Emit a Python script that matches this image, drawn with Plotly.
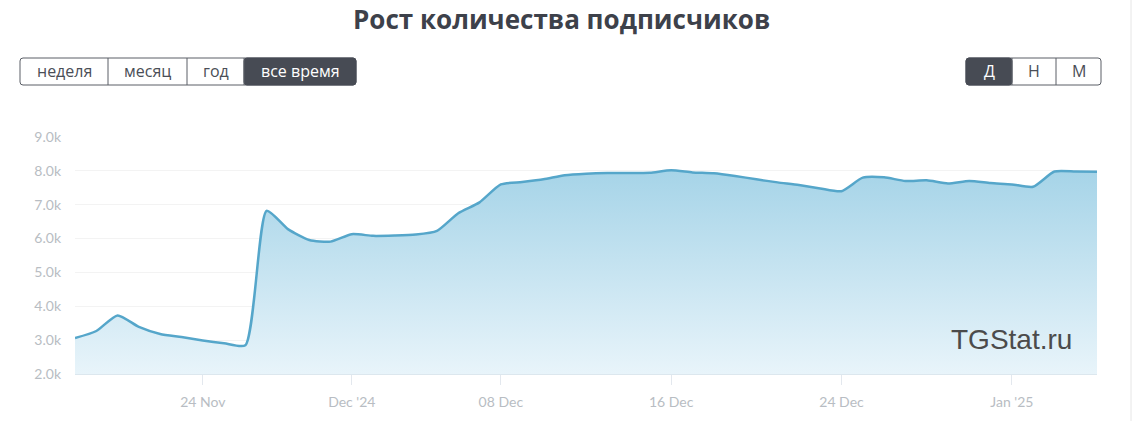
import plotly.graph_objects as go

# ---------------- data ----------------
dates = ["2024-11-18", "2024-11-19", "2024-11-20", "2024-11-21", "2024-11-22", "2024-11-23",
         "2024-11-24", "2024-11-25", "2024-11-26", "2024-11-27", "2024-11-28", "2024-11-29",
         "2024-11-30", "2024-12-01", "2024-12-02", "2024-12-03", "2024-12-04", "2024-12-05",
         "2024-12-06", "2024-12-07", "2024-12-08", "2024-12-09", "2024-12-10", "2024-12-11",
         "2024-12-12", "2024-12-13", "2024-12-14", "2024-12-15", "2024-12-16", "2024-12-17",
         "2024-12-18", "2024-12-19", "2024-12-20", "2024-12-21", "2024-12-22", "2024-12-23",
         "2024-12-24", "2024-12-25", "2024-12-26", "2024-12-27", "2024-12-28", "2024-12-29",
         "2024-12-30", "2024-12-31", "2025-01-01", "2025-01-02", "2025-01-03", "2025-01-04",
         "2025-01-05"]
subscribers = [3060, 3270, 3730, 3390, 3180, 3090, 2990, 2910, 2850, 6820, 6280, 5960,
               5910, 6130, 6080, 6090, 6120, 6230, 6750, 7070, 7600, 7670, 7750, 7870,
               7915, 7935, 7935, 7945, 8015, 7955, 7930, 7850, 7750, 7660, 7580, 7480,
               7400, 7800, 7810, 7700, 7720, 7630, 7700, 7640, 7600, 7530, 7980, 7980,
               7970]

x_tick_vals = ["2024-11-24", "2024-12-01", "2024-12-08", "2024-12-16", "2024-12-24", "2025-01-01"]
x_tick_text = ["24 Nov", "Dec '24", "08 Dec", "16 Dec", "24 Dec", "Jan '25"]
y_tick_vals = [2000, 3000, 4000, 5000, 6000, 7000, 8000, 9000]
y_tick_text = ["2.0k", "3.0k", "4.0k", "5.0k", "6.0k", "7.0k", "8.0k", "9.0k"]

title_text = "Рост количества подписчиков"
period_buttons = ["неделя", "месяц", "год", "все время"]
scale_buttons = ["Д", "Н", "М"]
watermark = "TGStat.ru"

# ---------------- layout geometry ----------------
W, H = 1133, 421
PL, PR, PT, PB = 75, 1097, 137, 374


def px(x):
    return (x - PL) / (PR - PL)


def py(y):
    return (PB - y) / (PB - PT)


fig = go.Figure()
fig.add_trace(go.Scatter(
    x=dates, y=subscribers, mode="lines",
    line=dict(color="#55a6ca", width=2.5, shape="spline", smoothing=0.6),
    fill="tozeroy",
    fillgradient=dict(type="vertical", start=2000, stop=8000,
                      colorscale=[[0, "rgba(232,244,250,1)"], [1, "rgba(166,212,232,1)"]]),
    hoverinfo="skip", showlegend=False,
))

shapes = []
annotations = []


def rounded_rect(x0, y0, x1, y1, r, fill, line):
    X0, X1 = px(x0), px(x1)
    Y0, Y1 = py(y0), py(y1)
    rx = r / (PR - PL)
    ry = r / (PB - PT)
    path = (f"M{X0+rx},{Y0} L{X1-rx},{Y0} Q{X1},{Y0} {X1},{Y0-ry} "
            f"L{X1},{Y1+ry} Q{X1},{Y1} {X1-rx},{Y1} L{X0+rx},{Y1} "
            f"Q{X0},{Y1} {X0},{Y1+ry} L{X0},{Y0-ry} Q{X0},{Y0} {X0+rx},{Y0} Z")
    return dict(type="path", xref="paper", yref="paper", path=path,
                fillcolor=fill, line=dict(color=line, width=1), layer="above")


def button_group(edges, labels, active_idx, y0, y1):
    shapes.append(rounded_rect(edges[0], y0, edges[-1], y1, 3, "white", "#5a5e66"))
    a0, a1 = edges[active_idx], edges[active_idx + 1]
    if active_idx in (0, len(labels) - 1):
        shapes.append(rounded_rect(a0, y0, a1, y1, 3, "#474b54", "#474b54"))
    else:
        shapes.append(dict(type="rect", xref="paper", yref="paper", x0=px(a0), x1=px(a1),
                           y0=py(y1), y1=py(y0), fillcolor="#474b54",
                           line=dict(color="#474b54", width=1), layer="above"))
    for e in edges[1:-1]:
        shapes.append(dict(type="line", xref="paper", yref="paper", x0=px(e), x1=px(e),
                           y0=py(y0), y1=py(y1), line=dict(color="#5a5e66", width=1),
                           layer="above"))
    for i, lab in enumerate(labels):
        cx = (edges[i] + edges[i + 1]) / 2
        annotations.append(dict(x=px(cx), y=py((y0 + y1) / 2), xref="paper", yref="paper",
                                text=lab, showarrow=False, xanchor="center", yanchor="middle",
                                font=dict(family="Open Sans", size=16,
                                          color="white" if i == active_idx else "#4a4e56")))


button_group([20, 108, 187, 244, 356], period_buttons, 3, 58, 85)
button_group([966, 1012, 1056, 1101], scale_buttons, 0, 58, 85)

# title
annotations.append(dict(x=px(561), y=py(19), xref="paper", yref="paper", text=f"<b>{title_text}</b>",
                        showarrow=False, xanchor="center", yanchor="middle",
                        font=dict(family="Open Sans", size=26, color="#3d414a")))
# watermark
annotations.append(dict(x=px(1074), y=py(339), xref="paper", yref="paper", text=watermark,
                        showarrow=False, xanchor="right", yanchor="middle",
                        font=dict(family="Liberation Sans", size=28, color="#4b4b4b")))

# right container border
shapes.append(dict(type="line", xref="paper", yref="paper", x0=px(1131), x1=px(1131),
                   y0=py(0), y1=py(421), line=dict(color="#e6e6e6", width=1)))

fig.update_layout(
    width=W, height=H,
    margin=dict(l=PL, r=W - PR, t=PT, b=H - PB),
    paper_bgcolor="white", plot_bgcolor="white",
    shapes=shapes, annotations=annotations,
    xaxis=dict(type="date", range=["2024-11-18", "2025-01-05"],
               tickvals=x_tick_vals, ticktext=x_tick_text,
               ticks="outside", ticklen=10, tickcolor="#e3e8ee", tickwidth=1,
               showline=True, linecolor="#dce7ee", linewidth=1,
               showgrid=False, zeroline=False, ticklabelstandoff=5,
               tickfont=dict(family="Lato", size=14, color="#b8bdc3"), fixedrange=True),
    yaxis=dict(range=[2000, 9000], tickvals=y_tick_vals, ticktext=y_tick_text,
               showgrid=True, gridcolor="#f3f3f3", zeroline=False, showline=False,
               ticks="", ticklabelstandoff=13,
               tickfont=dict(family="Lato", size=14, color="#b8bdc3"), fixedrange=True),
)

fig.write_html("out.html", config={"displayModeBar": False},
               post_script="document.body.style.margin='0';document.body.style.overflow='hidden';")
